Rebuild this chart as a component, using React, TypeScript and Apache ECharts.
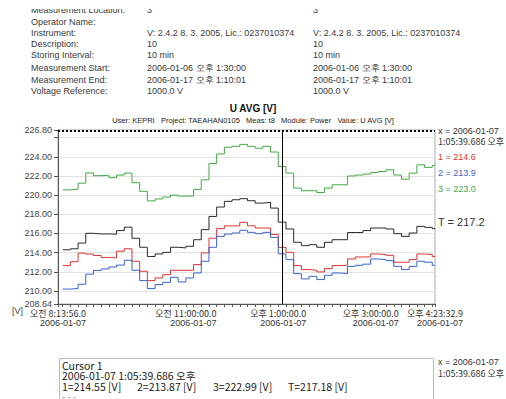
import React, { useEffect, useRef } from "react";
import * as echarts from "echarts";

// ---------- data ----------
const times = [
  "08:20", "08:30", "08:40", "08:50", "09:00", "09:10", "09:20", "09:30", "09:40", "09:50",
  "10:00", "10:10", "10:20", "10:30", "10:40", "10:50", "11:00", "11:10", "11:20", "11:30",
  "11:40", "11:50", "12:00", "12:10", "12:20", "12:30", "12:40", "12:50", "13:00", "13:10",
  "13:20", "13:30", "13:40", "13:50", "14:00", "14:10", "14:20", "14:30", "14:40", "14:50",
  "15:00", "15:10", "15:20", "15:30", "15:40", "15:50", "16:00", "16:10", "16:20",
];
const seriesT = [
  214.3, 214.4, 215.0, 216.02, 215.95, 215.95, 215.93, 216.3, 216.66, 215.5,
  214.56, 213.6, 213.86, 214.03, 214.56, 214.49, 214.66, 215.35, 216.4, 217.78,
  218.76, 219.35, 219.52, 219.63, 219.42, 219.17, 219.24, 218.65, 217.18, 216.47,
  215.08, 214.73, 214.83, 214.56, 215.08, 215.35, 215.35, 216.1, 216.1, 216.3,
  216.57, 216.57, 216.47, 215.98, 215.7, 216.05, 216.74, 216.64, 216.5,
];
const series1 = [
  212.65, 213.05, 213.95, 213.85, 213.7, 213.5, 213.45, 214.15, 214.4, 213.1,
  212.06, 211.08, 211.36, 211.7, 212.16, 212.16, 212.16, 212.75, 213.97, 215.5,
  216.5, 216.8, 216.8, 217.16, 216.8, 216.57, 216.57, 215.9, 214.55, 214.03,
  212.65, 212.23, 212.16, 211.99, 212.33, 212.65, 212.68, 213.34, 213.55, 213.55,
  213.86, 213.8, 213.72, 213.0, 213.0, 213.27, 213.86, 213.8, 213.6,
];
const series2 = [
  210.2, 210.25, 210.7, 211.75, 212.14, 212.3, 212.5, 212.7, 213.2, 212.16,
  211.08, 210.25, 210.67, 210.9, 211.43, 210.94, 211.36, 211.88, 213.1, 214.56,
  215.7, 215.94, 216.05, 216.33, 216.12, 215.98, 216.12, 215.6, 213.87, 213.27,
  211.81, 211.26, 211.53, 211.19, 211.64, 211.88, 211.81, 212.57, 212.68, 212.8,
  213.34, 213.27, 213.17, 212.57, 212.23, 212.57, 213.1, 213.0, 212.68,
];
const series3 = [
  220.55, 220.62, 221.25, 222.32, 222.03, 222.08, 221.82, 222.1, 222.3, 221.3,
  220.4, 219.4, 219.6, 219.8, 220.0, 219.9, 219.9, 220.6, 221.6, 223.3,
  224.3, 225.0, 225.1, 225.3, 225.1, 224.9, 225.1, 224.5, 222.99, 222.3,
  220.74, 220.46, 220.46, 220.28, 220.74, 221.08, 221.08, 222.0, 222.1, 222.2,
  222.37, 222.47, 222.65, 222.1, 221.67, 222.3, 223.17, 222.9, 223.1,
];
const startTime = "08:13:56.0";
const endTime = "16:23:32.9";
const cursorTime = "13:05:39.686";
const limitValue = 226.72;
const yLabelValues = [208.64, 210, 212, 214, 216, 218, 220, 222, 224, 226.8];
const yTickValues = [208.64, 210, 212, 214, 216, 218, 220, 222, 224, 226, 226.8];
const xLabelTimes = ["08:13:56.0", "11:00:00", "13:00:00", "15:00:00", "16:23:32.9"];
const xLabelTexts = ["오전 8:13:56.0", "오전 11:00:00.0", "오후 1:00:00.0", "오후 3:00:00.0", "오후 4:23:32.9"];
const dateText = "2006-01-07";

const headerLabels = [
  "Measurement Location:", "Operator Name:", "Instrument:", "Description:",
  "Storing Interval:", "Measurement Start:", "Measurement End:", "Voltage Reference:",
];
const headerValues1 = [
  "3", "", "V: 2.4.2 8. 3. 2005, Lic.: 0237010374", "10", "10 min",
  "2006-01-06 오후 1:30:00", "2006-01-17 오후 1:10:01", "1000.0 V",
];
const headerValues2 = [
  "3", "", "V: 2.4.2 8. 3. 2005, Lic.: 0237010374", "10", "10 min",
  "2006-01-06 오후 1:30:00", "2006-01-17 오후 1:10:01", "1000.0 V",
];
const headerRowsY = [10, 21.5, 32.5, 43.5, 54.5, 68, 79.5, 90.5];

const chartTitle = "U AVG [V]";
const chartSubtitle = "User: KEPRI   Project: TAEAHAN0105   Meas: t8   Module: Power   Value: U AVG [V]";
const cursorX1 = "x = 2006-01-07";
const cursorX2 = "1:05:39.686 오후";
const readout = ["1 = 214.6", "2 = 213.9", "3 = 223.0"];
const readoutT = "T = 217.2";
const boxTitle = "Cursor 1";
const boxTime = "2006-01-07 1:05:39.686 오후";
const boxValues = ["1=214.55 [V]", "2=213.87 [V]", "3=222.99 [V]", "T=217.18 [V]"];
const boxMore = "- - -";

const colorT = "#2a2a2a";
const color1 = "#dd3333";
const color2 = "#3a62cc";
const color3 = "#44a845";

// ---------- helpers ----------
function toMin(s: string): number {
  const p = s.split(":").map(Number);
  return p[0] * 60 + p[1] + (p[2] || 0) / 60;
}
const t0 = toMin(startTime);
const tEnd = toMin(endTime) - t0;
const xOf = (t: string) => toMin(t) - t0;

function buildData(vals: number[]) {
  const d = times.map((t, i) => [xOf(t), vals[i]]);
  d.push([tEnd, vals[vals.length - 1]]);
  return d;
}

export default function App() {
  const ref = useRef<HTMLDivElement>(null);
  useEffect(() => {
    if (!ref.current) return;
    const chart = echarts.init(ref.current, null, { renderer: "svg" });
    const sans = "'Liberation Sans', Arial, sans-serif";
    const kr = "'Noto Sans CJK KR', 'Liberation Sans', sans-serif";
    const xLabelMins = xLabelTimes.map(xOf);
    const xTickMins = [0, ...times.map(xOf), tEnd];

    const txt = (x: number, y: number, text: string, font: string, fill = "#333", extra: any = {}) => ({
      type: "text",
      x,
      y,
      style: { text, fill, font, textVerticalAlign: "middle", ...extra },
    });

    const graphics: any[] = [];
    headerLabels.forEach((l, i) => {
      graphics.push(txt(31, headerRowsY[i], l, `9px ${sans}`, "#3a3a3a"));
      graphics.push(txt(147, headerRowsY[i], headerValues1[i], `9px ${sans}`, "#3a3a3a"));
      graphics.push(txt(313, headerRowsY[i], headerValues2[i], `9px ${sans}`, "#3a3a3a"));
    });
    graphics.push({ type: "rect", shape: { x: 0, y: 0, width: 506, height: 9 }, style: { fill: "#fff" }, z: 100 });
    graphics.push(txt(253, 108, chartTitle, `bold 10px ${sans}`, "#111", { textAlign: "center" }));
    graphics.push(txt(253, 120, chartSubtitle, `7.5px ${sans}`, "#222", { textAlign: "center" }));
    graphics.push(txt(438, 131, cursorX1, `9px ${sans}`));
    graphics.push(txt(438, 141.5, cursorX2, `9px ${kr}`));
    const rc = [color1, color2, color3];
    const ry = [157, 173, 189];
    readout.forEach((r, i) => graphics.push(txt(438, ry[i], r, `9px ${sans}`, rc[i])));
    graphics.push(txt(438, 222, readoutT, `11px ${sans}`));
    graphics.push(txt(12, 311, "[V]", `9px ${sans}`, "#444"));
    graphics.push({ type: "rect", shape: { x: 59.5, y: 358.5, width: 374, height: 60 }, style: { fill: "none", stroke: "#bbb", lineWidth: 1 } });
    graphics.push(txt(62, 365.5, boxTitle, `10.5px ${kr}`, "#222", { lineHeight: 10 }));
    graphics.push(txt(62, 375.5, boxTime, `10.5px ${kr}`, "#222", { lineHeight: 10 }));
    const bx = [62, 137, 213, 288];
    boxValues.forEach((b, i) => graphics.push(txt(bx[i], 386, b, `10.5px ${kr}`, "#222", { lineHeight: 10 })));
    graphics.push(txt(62, 397, boxMore, `9px ${sans}`, "#888", { lineHeight: 8 }));
    graphics.push(txt(438, 362, cursorX1, `9px ${sans}`));
    graphics.push(txt(438, 373, cursorX2, `9px ${kr}`));

    const lineSeries = (name: string, vals: number[], color: string, extra: any = {}) => ({
      name,
      type: "line",
      step: "end",
      data: buildData(vals),
      showSymbol: false,
      symbol: "none",
      lineStyle: { width: 1, color },
      itemStyle: { color },
      silent: true,
      ...extra,
    });

    chart.setOption({
      animation: false,
      backgroundColor: "#fff",
      grid: { left: 58, right: 71, top: 130, bottom: 95, show: true, borderColor: "#aaa", borderWidth: 1, backgroundColor: "transparent" },
      xAxis: {
        type: "value",
        min: 0,
        max: tEnd,
        axisLine: { show: true, lineStyle: { color: "#555" } },
        axisTick: { show: true, customValues: xTickMins, length: 3, lineStyle: { color: "#555" } },
        axisLabel: {
          customValues: xLabelMins,
          hideOverlap: false,
          margin: 4,
          formatter: (v: number) => {
            let idx = 0;
            let best = Infinity;
            xLabelMins.forEach((m, i) => {
              const d = Math.abs(m - v);
              if (d < best) { best = d; idx = i; }
            });
            return `{t|${xLabelTexts[idx]}}\n{d|${dateText}}`;
          },
          rich: {
            t: { fontSize: 9, fontFamily: kr, color: "#333", lineHeight: 10 },
            d: { fontSize: 9, fontFamily: sans, color: "#333", lineHeight: 10, align: "right" },
          },
        },
        splitLine: { show: false },
      },
      yAxis: {
        type: "value",
        min: 208.64,
        max: 226.8,
        axisLine: { show: true, lineStyle: { color: "#555" } },
        axisTick: { show: true, customValues: yTickValues, length: 4, lineStyle: { color: "#555" } },
        axisLabel: {
          customValues: yLabelValues,
          formatter: (v: number) => v.toFixed(2),
          fontSize: 9,
          fontFamily: sans,
          color: "#444",
          margin: 6,
        },
        splitLine: { show: true, lineStyle: { color: "#e2e2e2", width: 1 } },
      },
      series: [
        lineSeries("T", seriesT, colorT, {
          markLine: {
            silent: true,
            symbol: "none",
            label: { show: false },
            data: [
              { xAxis: xOf(cursorTime), lineStyle: { color: "#000", type: "solid", width: 1 } },
              { yAxis: limitValue, lineStyle: { color: "#000", type: [2, 2], width: 2 } },
            ],
          },
        }),
        lineSeries("1", series1, color1),
        lineSeries("2", series2, color2),
        lineSeries("3", series3, color3),
      ],
      graphic: graphics,
    });
    return () => chart.dispose();
  }, []);
  return <div ref={ref} style={{ position: "fixed", left: 0, top: 0, width: 506, height: 399 }} />;
}
